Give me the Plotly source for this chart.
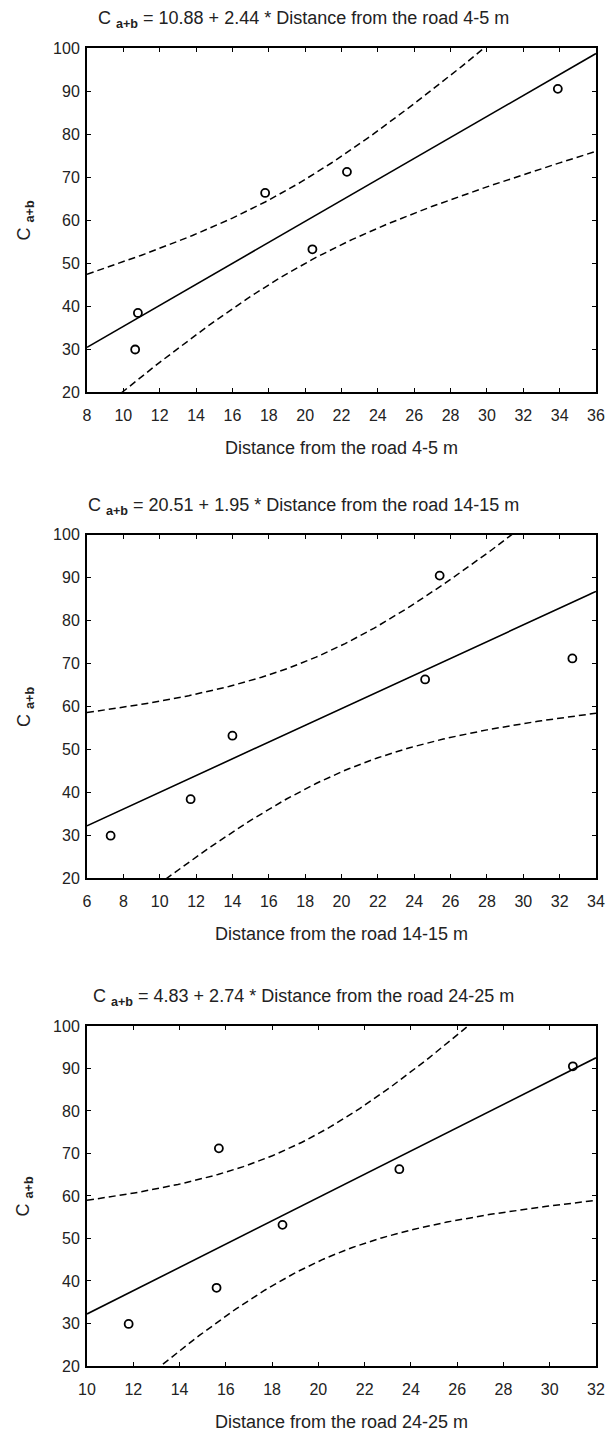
import numpy as np
import plotly.graph_objects as go

# ---- data ----
c_ab = [29.9, 38.4, 53.2, 66.3, 71.2, 90.5]
dist_4_5 = [10.65, 10.8, 20.4, 17.8, 22.3, 33.9]
dist_14_15 = [7.3, 11.7, 14.0, 24.6, 32.7, 25.4]
dist_24_25 = [11.8, 15.6, 18.45, 23.5, 15.7, 31.0]

labels = ["4-5 m", "14-15 m", "24-25 m"]
intercepts = [10.88, 20.51, 4.83]
slopes = [2.44, 1.95, 2.74]
x_ranges = [[8, 36], [6, 34], [10, 32]]
y_range = [20, 100]
T_CRIT = 2.776  # t(0.975, df=4) for the 95% confidence band

FONT = "Liberation Sans Narrow, Arial Narrow, Liberation Sans, Arial, sans-serif"

# the page body has an 8px margin, so the figure starts at page (8, 8)
OFF = 8
PAGE_W, PAGE_H = 615, 1435
W, H = PAGE_W - OFF, PAGE_H - OFF

# plot-area edges in page pixels
LEFT_PX, RIGHT_PX = 86.7, 605.0
panels_px = [(48.3, 392.3), (535.0, 878.3), (1026.0, 1366.0)]

ML = LEFT_PX - OFF
MR = PAGE_W - RIGHT_PX
MT = panels_px[0][0] - OFF
MB = PAGE_H - panels_px[2][1]
PW, PH = W - ML - MR, H - MT - MB


def py(page_y):
    return (PAGE_H - MB - page_y) / PH


def pxx(page_x):
    return (page_x - LEFT_PX) / PW


fig = go.Figure()
xs_all = [dist_4_5, dist_14_15, dist_24_25]

for i in range(3):
    n = i + 1
    xa = "x" if n == 1 else f"x{n}"
    ya = "y" if n == 1 else f"y{n}"
    x = np.array(xs_all[i], dtype=float)
    y = np.array(c_ab, dtype=float)
    a, b = intercepts[i], slopes[i]
    lo, hi = x_ranges[i]
    xl = np.linspace(lo, hi, 141)
    yl = a + b * xl
    resid = y - (a + b * x)
    s = np.sqrt(np.sum(resid ** 2) / (len(x) - 2))
    sxx = np.sum((x - x.mean()) ** 2)
    half = T_CRIT * s * np.sqrt(1.0 / len(x) + (xl - x.mean()) ** 2 / sxx)

    for band in (yl + half, yl - half):
        fig.add_trace(go.Scatter(x=xl, y=band, mode="lines", xaxis=xa, yaxis=ya,
                                 line=dict(color="black", width=1.5, dash="7px,4px"),
                                 showlegend=False, hoverinfo="skip"))
    fig.add_trace(go.Scatter(x=xl, y=yl, mode="lines", xaxis=xa, yaxis=ya,
                             line=dict(color="black", width=1.6),
                             showlegend=False))
    fig.add_trace(go.Scatter(x=x, y=y, mode="markers", xaxis=xa, yaxis=ya,
                             marker=dict(symbol="circle-open", size=8, color="black",
                                         line=dict(width=1.8, color="black")),
                             cliponaxis=False, showlegend=False))

    top, bot = panels_px[i]
    axis_common = dict(showline=True, linecolor="black", linewidth=2, mirror="ticks",
                       ticks="inside", ticklen=4, tickwidth=1.2, tickcolor="black",
                       showgrid=False, zeroline=False,
                       tickfont=dict(family=FONT, size=16, color="#222"))
    fig.layout[f"xaxis{'' if n == 1 else n}"] = dict(
        domain=[0, 1], anchor=ya, range=[lo, hi], dtick=2, tick0=lo,
        ticklabelstandoff=8, **axis_common)
    fig.layout[f"yaxis{'' if n == 1 else n}"] = dict(
        domain=[py(bot), min(1.0, py(top))], anchor=xa, range=y_range, dtick=10,
        ticklabelstandoff=2, **axis_common)

    # panel title (centred on the page)
    fig.add_annotation(text=f"C <sub><b>a+b</b></sub> = {a:.2f} + {b:.2f} * Distance from the road {labels[i]}",
                       xref="paper", yref="paper", x=pxx(PAGE_W / 2), y=py(top - 28),
                       xanchor="center", yanchor="middle", showarrow=False,
                       font=dict(family=FONT, size=18, color="#222"))
    # x-axis title
    fig.add_annotation(text=f"Distance from the road {labels[i]}",
                       xref="paper", yref="paper", x=pxx(346.0), y=py(bot + 56),
                       xanchor="center", yanchor="middle", showarrow=False,
                       font=dict(family=FONT, size=18, color="#222"))
    # y-axis title
    fig.add_annotation(text="C <sub><b>a+b</b></sub>", textangle=-90,
                       xref="paper", yref="paper", x=pxx(24), y=py((top + bot) / 2),
                       xanchor="center", yanchor="middle", showarrow=False,
                       font=dict(family=FONT, size=18, color="#222"))

fig.update_layout(width=W, height=H, margin=dict(l=ML, r=MR, t=MT, b=MB, pad=0),
                  paper_bgcolor="white", plot_bgcolor="white",
                  font=dict(family=FONT, color="#222"))

fig.write_html("out.html")
